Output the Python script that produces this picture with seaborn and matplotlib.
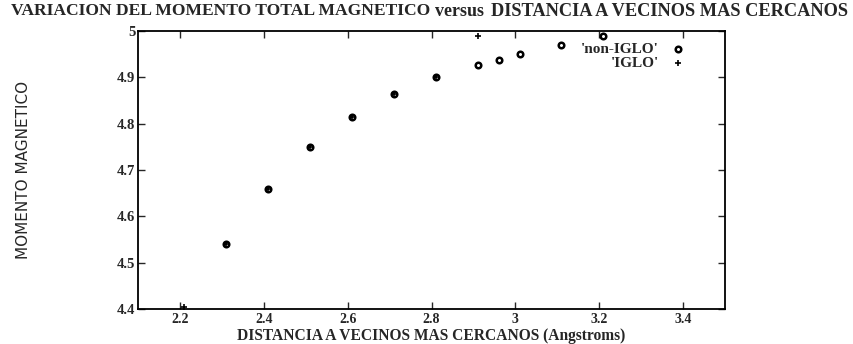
import matplotlib
matplotlib.use("Agg")
import matplotlib.pyplot as plt
import seaborn as sns
import pandas as pd

# data
non_iglo_x = [2.31, 2.41, 2.51, 2.61, 2.71, 2.81, 2.91, 2.96, 3.01, 3.11, 3.21]
non_iglo_y = [4.54, 4.66, 4.75, 4.815, 4.865, 4.90, 4.926, 4.937, 4.95, 4.97, 4.99]
iglo_x = [2.21, 2.31, 2.41, 2.51, 2.61, 2.71, 2.81, 2.91]
iglo_y = [4.405, 4.54, 4.66, 4.75, 4.815, 4.865, 4.90, 4.99]
x_ticks = [2.2, 2.4, 2.6, 2.8, 3.0, 3.2, 3.4]
x_tick_labels = ["2.2", "2.4", "2.6", "2.8", "3", "3.2", "3.4"]
y_ticks = [4.4, 4.5, 4.6, 4.7, 4.8, 4.9, 5.0]
y_tick_labels = ["4.4", "4.5", "4.6", "4.7", "4.8", "4.9", "5"]

sns.set_style("ticks")
plt.rcParams['font.family'] = ['Liberation Serif', 'DejaVu Serif']

df_n = pd.DataFrame({"x": non_iglo_x, "y": non_iglo_y})
df_i = pd.DataFrame({"x": iglo_x, "y": iglo_y})

fig = plt.figure(figsize=(8.54, 3.44), dpi=100)
# axes: left 138 px, right 725 px, top 31 px, bottom 309 px
ax = fig.add_axes([138 / 854, 1 - 309 / 344, 587 / 854, 278 / 344])

sns.scatterplot(data=df_n, x="x", y="y", ax=ax, marker="o", s=16,
                facecolor="white", edgecolor="black", linewidth=1.8,
                label="'non-IGLO'", clip_on=False, zorder=3)
sns.scatterplot(data=df_i, x="x", y="y", ax=ax, marker="+", s=24,
                color="black", linewidth=1.2,
                label="'IGLO'", clip_on=False, zorder=4)

ax.set_xlim(2.1, 3.5)
ax.set_ylim(4.4, 5.0)
ax.set_xticks(x_ticks)
ax.set_xticklabels(x_tick_labels, fontweight="bold", fontsize=10)
ax.set_yticks(y_ticks)
ax.set_yticklabels(y_tick_labels, fontweight="bold", fontsize=10.5)
ax.tick_params(direction="in", length=5, width=1, top=True, right=True, pad=2)
ax.tick_params(axis="x", pad=3)
for sp in ax.spines.values():
    sp.set_linewidth(1.3)
    sp.set_color("black")

ax.set_xlabel("DISTANCIA A VECINOS MAS CERCANOS (Angstroms)",
              fontweight="bold", fontsize=11.2, labelpad=1)
ax.set_ylabel("MOMENTO MAGNETICO", family=["Liberation Sans Narrow", "DejaVu Sans"],
              fontsize=11, labelpad=62)

fig.text(430 / 854, 0.968, "VARIACION DEL MOMENTO TOTAL MAGNETICO", ha="right",
         va="center", fontweight="bold", fontsize=12.6)
fig.text(435 / 854, 0.966, "versus", ha="left", va="center", fontweight="bold", fontsize=13)
fig.text(491 / 854, 0.968, "DISTANCIA A VECINOS MAS CERCANOS", ha="left",
         va="center", fontweight="bold", fontsize=13.2)

leg = ax.legend(loc="upper right", bbox_to_anchor=(0.95, 0.98), markerfirst=False,
                frameon=False, prop={"weight": "bold", "size": 11},
                handletextpad=0.5, labelspacing=0.0, borderaxespad=0.0,
                handlelength=1.5)

fig.savefig("out.png", dpi=100)
